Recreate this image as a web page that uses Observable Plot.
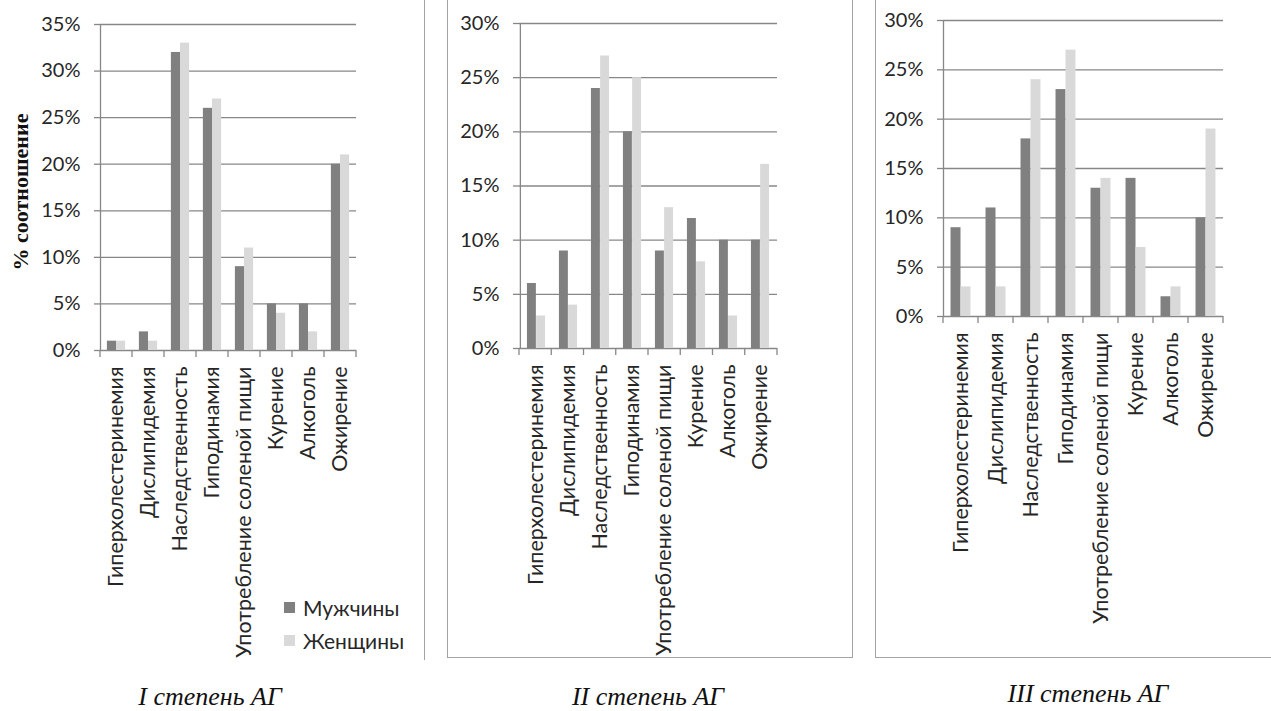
<!DOCTYPE html>
<html><head><meta charset="utf-8">
<script src="https://cdn.jsdelivr.net/npm/d3@7"></script>
<script src="https://cdn.jsdelivr.net/npm/@observablehq/plot@0.6"></script>
<style>
body{margin:0;background:#fff;}
#root{position:relative;width:1271px;height:711px;overflow:hidden;font-family:Lato,sans-serif;background:#fff;}
.panel{position:absolute;top:0;}
.border{position:absolute;border-color:#a3a3a3;border-style:solid;border-width:0;}
.caption{position:absolute;font-family:"Liberation Serif",serif;font-style:italic;font-size:26px;line-height:1;transform:translateX(-50%);white-space:nowrap;color:#111;}
.ytitle{position:absolute;font-family:"Liberation Serif",serif;font-weight:bold;font-size:22px;white-space:nowrap;transform:translate(-50%,-50%) rotate(-90deg);color:#111;}
.legend{position:absolute;font-family:Lato,sans-serif;font-size:21px;color:#262626;}
.legend div{display:flex;align-items:center;height:33px;}
.legend span.sw{display:inline-block;width:11px;height:11px;margin-right:8px;}
</style></head><body><div id="root"></div>
<script>
const categories = ["Гиперхолестеринемия","Дислипидемия","Наследственность","Гиподинамия","Употребление соленой пищи","Курение","Алкоголь","Ожирение"];
const series = ["Мужчины","Женщины"];
const seriesColors = ["#808080","#d9d9d9"];
const men1 = [1,2,32,26,9,5,5,20];
const women1 = [1,1,33,27,11,4,2,21];
const men2 = [6,9,24,20,9,12,10,10];
const women2 = [3,4,27,25,13,8,3,17];
const men3 = [9,11,18,23,13,14,2,10];
const women3 = [3,3,24,27,14,7,3,19];
const yTicks1 = [0,5,10,15,20,25,30,35];
const yTicks23 = [0,5,10,15,20,25,30];
const captions = ["I степень АГ","II степень АГ","III степень АГ"];
const yTitle = "% соотношение";

const root = document.getElementById("root");
const H = 711;

function panel({men, women, ticks, left, width, plotLeft, plotRight, top, zero}) {
  const rows = categories.map((c,i)=>({c, m: men[i], w: women[i]}));
  const n = categories.length;
  const band = (plotRight - plotLeft)/n;
  const barW = band*0.285;
  const gap = (band - 2*barW)/2;
  const chart = Plot.plot({
    width, height: H,
    marginLeft: plotLeft - left, marginRight: left + width - plotRight,
    marginTop: top, marginBottom: H - zero,
    style: {fontFamily: "Lato, sans-serif", fontSize: "20px", color: "#262626", background: "transparent", overflow: "visible"},
    x: {domain: categories, padding: 0, label: null},
    y: {domain: [0, ticks[ticks.length-1]], label: null},
    marks: [
      Plot.ruleY(ticks, {stroke: "#878787", strokeWidth: 1.3}),
      Plot.ruleX([categories[0]], {dx: -band/2, stroke: "#878787", strokeWidth: 1.3}),
      Plot.barY(rows, {x: "c", y: "m", fill: seriesColors[0], insetLeft: gap, insetRight: gap + barW}),
      Plot.barY(rows, {x: "c", y: "w", fill: seriesColors[1], insetLeft: gap + barW, insetRight: gap}),
      Plot.axisY({ticks, tickFormat: d => d + "%", tickSize: 6, tickPadding: 14, stroke: "#878787", strokeWidth: 1.3, label: null}),
      Plot.axisX({tickRotate: -90, tickSize: 0, tickPadding: 16, fontSize: 21.5, label: null})
    ]
  });
  // category-separating ticks below the axis (Excel style), from the x scale range
  const xs = chart.scale("x");
  const [r0, r1] = xs.range;
  const step = (r1 - r0) / n;
  const svg = d3.select(chart);
  const y0 = chart.scale("y").apply(0);
  svg.append("g").selectAll("line").data(d3.range(n + 1)).join("line")
    .attr("x1", i => r0 + i*step).attr("x2", i => r0 + i*step)
    .attr("y1", y0).attr("y2", y0 + 7)
    .attr("stroke", "#878787").attr("stroke-width", 1.3);
  chart.classList.add("panel");
  chart.style.left = left + "px";
  root.appendChild(chart);
}

panel({men: men1, women: women1, ticks: yTicks1, left: 0, width: 420, plotLeft: 100, plotRight: 356, top: 24, zero: 350});
panel({men: men2, women: women2, ticks: yTicks23, left: 450, width: 400, plotLeft: 519, plotRight: 777, top: 23, zero: 348});
panel({men: men3, women: women3, ticks: yTicks23, left: 878, width: 390, plotLeft: 943, plotRight: 1223, top: 20, zero: 316});

// panel borders
function border(style){ const d = document.createElement("div"); d.className = "border"; Object.assign(d.style, style); root.appendChild(d); }
border({left: "424px", top: "-5px", width: "0px", height: "665px", borderRightWidth: "1.5px"});
border({left: "447px", top: "-5px", width: "404px", height: "662px", borderLeftWidth: "1.5px", borderRightWidth: "1.5px", borderBottomWidth: "1.5px"});
border({left: "875px", top: "-5px", width: "420px", height: "662px", borderLeftWidth: "1.5px", borderBottomWidth: "1.5px"});

// y title
const yt = document.createElement("div"); yt.className = "ytitle"; yt.textContent = yTitle;
yt.style.left = "21px"; yt.style.top = "192px"; root.appendChild(yt);

// legend
const lg = document.createElement("div"); lg.className = "legend"; lg.style.left = "284px"; lg.style.top = "591px";
series.forEach((s, i) => {
  const row = document.createElement("div");
  const sw = document.createElement("span"); sw.className = "sw"; sw.style.background = seriesColors[i];
  row.appendChild(sw); row.appendChild(document.createTextNode(s)); lg.appendChild(row);
});
root.appendChild(lg);

// captions
[210, 648, 1088].forEach((cx, i) => {
  const c = document.createElement("div"); c.className = "caption"; c.textContent = captions[i];
  c.style.left = cx + "px"; c.style.top = (i === 2 ? 681 : 684) + "px"; root.appendChild(c);
});
</script></body></html>
